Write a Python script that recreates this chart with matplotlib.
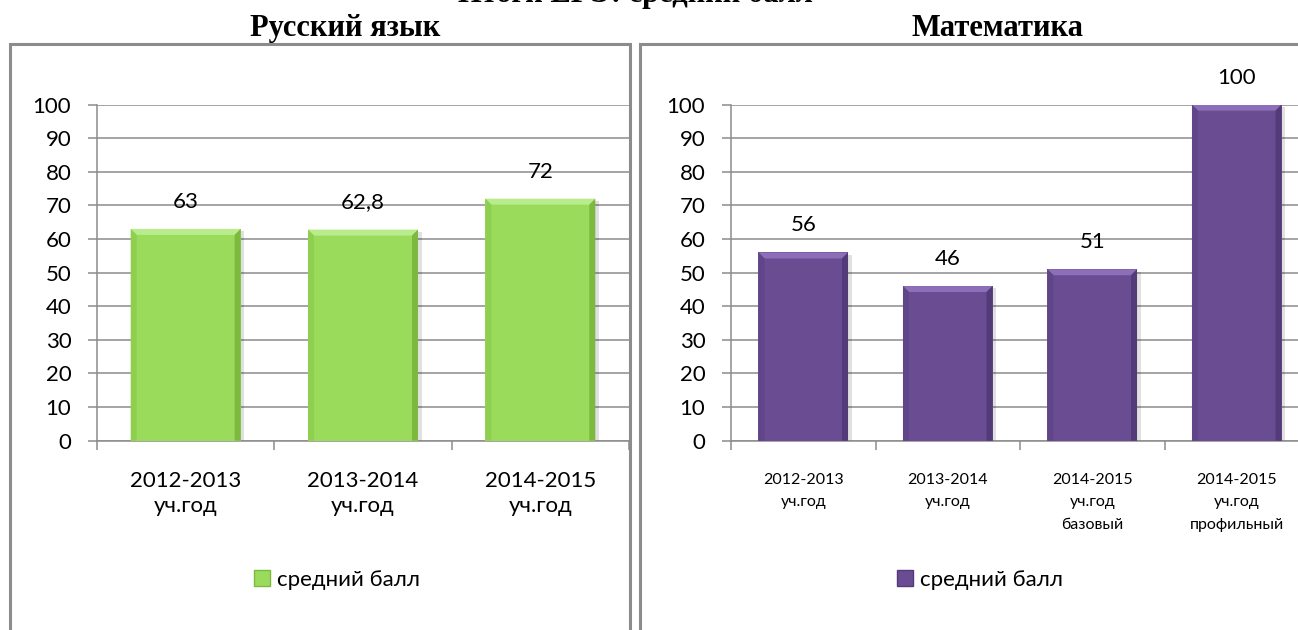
import matplotlib
matplotlib.use("Agg")
import matplotlib.pyplot as plt
from matplotlib.patches import Polygon, Rectangle

# --- data ---
rus_labels = ["2012-2013\nуч.год", "2013-2014\nуч.год", "2014-2015\nуч.год"]
rus_values = [63, 62.8, 72]
rus_text = ["63", "62,8", "72"]

math_labels = ["2012-2013\nуч.год", "2013-2014\nуч.год",
               "2014-2015\nуч.год\nбазовый", "2014-2015\nуч.год\nпрофильный"]
math_values = [56, 46, 51, 100]
math_text = ["56", "46", "51", "100"]

y_ticks = [0, 10, 20, 30, 40, 50, 60, 70, 80, 90, 100]
legend_label = "средний балл"
title_top = "Итоги ЕГЭ: средний балл"
title_rus = "Русский язык"
title_math = "Математика"

W, H, DPI = 1298, 630, 100
GREY = "#8c8c8c"

plt.rcParams["font.family"] = ["Lato", "DejaVu Sans"]


def fx(px):
    return px / W


def fy(py):
    return 1 - py / H


def bevel_bars(ax, bars, top_c, side_c, dark_c, bevel_px=6):
    # fake the excel bevel look using the bar geometry
    pos = ax.get_position()
    x_lo, x_hi = ax.get_xlim()
    y_lo, y_hi = ax.get_ylim()
    bx = bevel_px / (pos.width * W / (x_hi - x_lo))
    by = bevel_px / (pos.height * H / (y_hi - y_lo))
    for p in bars:
        x0, w, h = p.get_x(), p.get_width(), p.get_height()
        # soft shadow
        ax.add_patch(Rectangle((x0 + bx * 0.6, 0), w, h - by * 0.4, facecolor="#000000",
                               alpha=0.12, edgecolor="none", zorder=2))
        ax.add_patch(Polygon([(x0, h), (x0 + w, h), (x0 + w - bx, h - by), (x0 + bx, h - by)],
                             closed=True, facecolor=top_c, edgecolor="none", zorder=4))
        ax.add_patch(Polygon([(x0, 0), (x0, h), (x0 + bx, h - by), (x0 + bx, 0)],
                             closed=True, facecolor=side_c, edgecolor="none", zorder=4))
        ax.add_patch(Polygon([(x0 + w, 0), (x0 + w, h), (x0 + w - bx, h - by), (x0 + w - bx, 0)],
                             closed=True, facecolor=dark_c, edgecolor="none", zorder=4))


def draw_panel(ax, labels, values, texts, colors, label_size, spacing, pad):
    face, top_c, side_c, dark_c = colors
    n = len(values)
    x = list(range(n))
    bars = ax.bar(x, values, width=0.62, color=face, edgecolor="none", zorder=3)
    ax.set_xlim(-0.5, n - 0.5)
    ax.set_ylim(0, 100)
    ax.set_yticks(y_ticks)
    ax.yaxis.grid(True, color=GREY, linewidth=1.1, zorder=0)
    ax.set_axisbelow(True)
    for s in ["top", "right"]:
        ax.spines[s].set_visible(False)
    for s in ["left", "bottom"]:
        ax.spines[s].set_color(GREY)
        ax.spines[s].set_linewidth(1.1)
    ax.tick_params(axis="y", length=6.5, width=1.1, color=GREY, pad=12, labelsize=16)
    ax.set_xticks([i - 0.5 for i in range(n + 1)])
    ax.set_xticklabels([])
    ax.tick_params(axis="x", which="major", length=6.5, width=1.1, color=GREY, direction="out")
    ax.set_xticks(x, minor=True)
    ax.set_xticklabels(labels, minor=True, fontsize=label_size, linespacing=spacing)
    ax.tick_params(axis="x", which="minor", length=0, pad=pad)
    for xi, v, t in zip(x, values, texts):
        ax.annotate(t, (xi, v), xytext=(0, 19.5), textcoords="offset points",
                    ha="center", va="center", fontsize=16, annotation_clip=False)
    bevel_bars(ax, bars, top_c, side_c, dark_c)
    return bars


fig = plt.figure(figsize=(W / DPI, H / DPI), dpi=DPI)

# chart frames
for left, right in [(10, 630), (640, 1320)]:
    fig.patches.append(Rectangle((fx(left), fy(660)), (right - left) / W, (660 - 44) / H,
                                 transform=fig.transFigure, fill=False,
                                 edgecolor=GREY, linewidth=2.2))

green = ("#9bdb5c", "#b9ec8c", "#8fcf50", "#7cb93e")
purple = ("#6a4c93", "#8c6fb8", "#614589", "#533a78")

ax1 = fig.add_axes([97 / W, 1 - 440.6 / H, 532 / W, 336 / H])
draw_panel(ax1, rus_labels, rus_values, rus_text, green, 16, 1.32, 22)

ax2 = fig.add_axes([731 / W, 1 - 440.6 / H, 578 / W, 336 / H])
draw_panel(ax2, math_labels, math_values, math_text, purple, 11.5, 1.75, 23.5)

for cx, col in [(337, green), (980, purple)]:
    handle = Rectangle((0, 0), 1, 1, facecolor=col[0], edgecolor=col[3], linewidth=1)
    fig.legend([handle], [legend_label], loc="center", bbox_to_anchor=(fx(cx), fy(580)),
               frameon=False, fontsize=16, handlelength=0.7, handleheight=0.7,
               handletextpad=0.3)

serif = dict(fontfamily="Liberation Serif", fontweight="bold")
fig.text(fx(345), fy(36), title_rus, va="baseline", ha="center", fontsize=22, **serif)
fig.text(fx(997), fy(36), title_math, va="baseline", ha="center", fontsize=22, **serif)
# main title, cut off at the top edge like in the source
fig.text(fx(635), fy(2), title_top, va="baseline", ha="center", fontsize=22, **serif)

fig.savefig("out.png", dpi=DPI)
